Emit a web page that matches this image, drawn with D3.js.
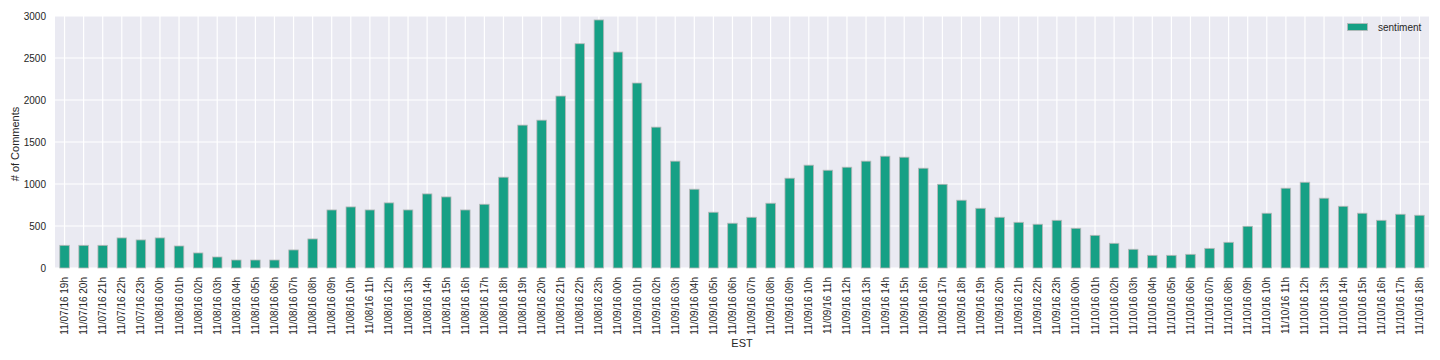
<!DOCTYPE html>
<html><head><meta charset="utf-8">
<script src="https://cdn.jsdelivr.net/npm/d3@7"></script>
<style>body{margin:0;background:#fff}svg{display:block}text{font-family:"Liberation Sans",Arial,sans-serif;fill:#262626}</style>
</head><body>
<svg id="c" width="1440" height="360"></svg>
<script>
const categories = [
"11/07/16 19h","11/07/16 20h","11/07/16 21h","11/07/16 22h","11/07/16 23h",
"11/08/16 00h","11/08/16 01h","11/08/16 02h","11/08/16 03h","11/08/16 04h","11/08/16 05h","11/08/16 06h","11/08/16 07h","11/08/16 08h","11/08/16 09h","11/08/16 10h","11/08/16 11h","11/08/16 12h","11/08/16 13h","11/08/16 14h","11/08/16 15h","11/08/16 16h","11/08/16 17h","11/08/16 18h","11/08/16 19h","11/08/16 20h","11/08/16 21h","11/08/16 22h","11/08/16 23h",
"11/09/16 00h","11/09/16 01h","11/09/16 02h","11/09/16 03h","11/09/16 04h","11/09/16 05h","11/09/16 06h","11/09/16 07h","11/09/16 08h","11/09/16 09h","11/09/16 10h","11/09/16 11h","11/09/16 12h","11/09/16 13h","11/09/16 14h","11/09/16 15h","11/09/16 16h","11/09/16 17h","11/09/16 18h","11/09/16 19h","11/09/16 20h","11/09/16 21h","11/09/16 22h","11/09/16 23h",
"11/10/16 00h","11/10/16 01h","11/10/16 02h","11/10/16 03h","11/10/16 04h","11/10/16 05h","11/10/16 06h","11/10/16 07h","11/10/16 08h","11/10/16 09h","11/10/16 10h","11/10/16 11h","11/10/16 12h","11/10/16 13h","11/10/16 14h","11/10/16 15h","11/10/16 16h","11/10/16 17h","11/10/16 18h"];
const sentiment = [
270,270,270,358,334,358,262,179,131,95,95,95,215,346,691,727,691,775,691,882,846,691,759,1081,1701,1760,2047,2670,2953,2571,2202,1677,1272,938,664,533,604,771,1069,1224,1164,1200,1272,1331,1319,1188,997,807,711,604,544,521,568,473,389,294,223,151,151,163,234,306,497,652,950,1021,831,735,652,568,640,628];
const yTicks = [0,500,1000,1500,2000,2500,3000];
const seriesName = "sentiment";
const xLabel = "EST", yLabel = "# of Comments";

const svg = d3.select("#c");
const L = 55, R = 1429, T = 16, B = 268;
const x = d3.scaleBand().domain(categories).range([L, R]).paddingInner(0.5).paddingOuter(0.25);
const y = d3.scaleLinear().domain([0, 3000]).range([B, T]);

svg.append("rect").attr("x", L).attr("y", T).attr("width", R - L).attr("height", B - T).attr("fill", "#EAEAF2");

const g = svg.append("g");
// grid
g.selectAll(".hg").data(yTicks).join("line")
  .attr("x1", L).attr("x2", R).attr("y1", d => y(d)).attr("y2", d => y(d))
  .attr("stroke", "#fff").attr("stroke-width", 1.2);
g.selectAll(".vg").data(categories).join("line")
  .attr("x1", d => x(d) + x.bandwidth() / 2).attr("x2", d => x(d) + x.bandwidth() / 2)
  .attr("y1", T).attr("y2", B).attr("stroke", "#fff").attr("stroke-width", 1.2);

// bars
g.selectAll(".bar").data(sentiment).join("rect")
  .attr("x", (d, i) => x(categories[i])).attr("width", x.bandwidth())
  .attr("y", d => y(d)).attr("height", d => B - y(d))
  .attr("fill", "#16a085").attr("stroke", "#b8b8b8").attr("stroke-width", 0.8);

// y axis
const ya = svg.append("g").attr("transform", `translate(${L},0)`)
  .call(d3.axisLeft(y).tickValues(yTicks).tickSize(0).tickPadding(9).tickFormat(d3.format("d")));
ya.select(".domain").remove();
ya.selectAll("text").attr("font-size", 10).attr("font-family", "Liberation Sans, Arial, sans-serif").attr("fill", "#262626");

// x axis
const xa = svg.append("g").attr("transform", `translate(0,${B})`)
  .call(d3.axisBottom(x).tickSize(0).tickPadding(0));
xa.select(".domain").remove();
xa.selectAll("text")
  .attr("font-size", 10).attr("font-family", "Liberation Sans, Arial, sans-serif").attr("fill", "#262626")
  .attr("transform", "translate(0,9) rotate(-90)")
  .attr("text-anchor", "end").attr("dy", "0.35em").attr("x", 0).attr("y", 0);

// axis labels
svg.append("text").attr("x", 742).attr("y", 346.5).attr("text-anchor", "middle").attr("font-size", 11).text(xLabel);
svg.append("text").attr("transform", "translate(19,144) rotate(-90)").attr("text-anchor", "middle").attr("font-size", 11).text(yLabel);

// legend
svg.append("rect").attr("x", 1347.5).attr("y", 23.5).attr("width", 20).attr("height", 7)
  .attr("fill", "#16a085").attr("stroke", "#b8b8b8").attr("stroke-width", 0.8);
svg.append("text").attr("x", 1378).attr("y", 30.5).attr("font-size", 10).text(seriesName);
</script>
</body></html>
